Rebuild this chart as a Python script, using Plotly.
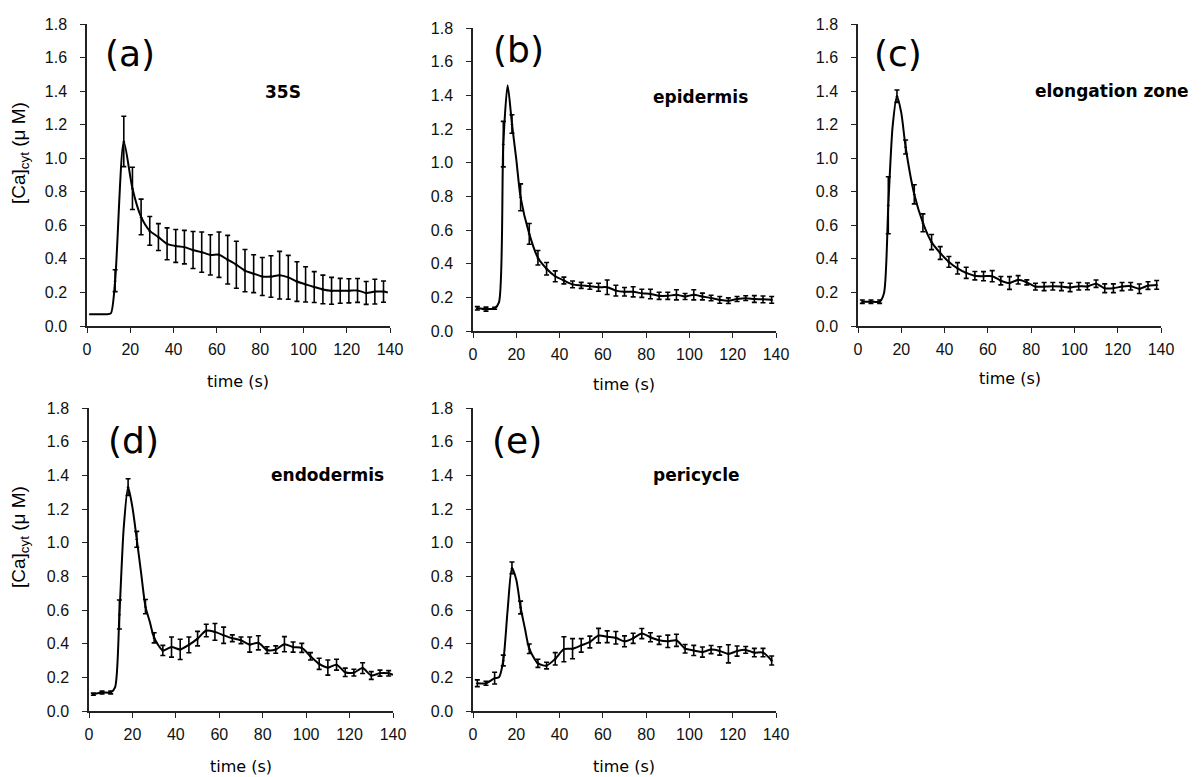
import plotly.graph_objects as go

# the page body adds an 8 px margin, so the figure is drawn 8 px in from the top-left corner
OFF = 8
W, H = 1201 - OFF, 777 - OFF

# ---------------- data (time in s, [Ca]cyt in uM, SE) ----------------
t_a = [1, 5, 9, 11, 13, 17, 21, 25, 29, 33, 37, 41, 45, 49, 53, 57, 61, 65, 69, 73, 77, 81,
       85, 89, 93, 97, 101, 105, 109, 113, 117, 121, 125, 129, 133, 137, 139]
y_a = [0.07, 0.07, 0.07, 0.075, 0.27, 1.10, 0.82, 0.65, 0.567, 0.53, 0.49, 0.477, 0.47, 0.453,
       0.44, 0.424, 0.425, 0.395, 0.365, 0.33, 0.312, 0.295, 0.295, 0.303, 0.29, 0.265, 0.248,
       0.232, 0.218, 0.21, 0.21, 0.21, 0.212, 0.197, 0.205, 0.205, 0.20]
e_a = [None, None, None, None, 0.065, 0.15, 0.126, 0.106, 0.086, 0.08, 0.095, 0.098, 0.10, 0.11,
       0.12, 0.12, 0.135, 0.145, 0.14, 0.126, 0.113, 0.113, 0.124, 0.142, 0.131, 0.118, 0.105,
       0.092, 0.085, 0.08, 0.074, 0.072, 0.071, 0.068, 0.074, 0.063, None]

t_b = [2, 6, 10, 12, 14, 16, 18, 20, 22, 26, 30, 34, 38, 42, 46, 50, 54, 58, 62, 66, 70, 74, 78,
       82, 86, 90, 94, 98, 102, 106, 110, 114, 118, 122, 126, 130, 134, 138]
y_b = [0.135, 0.13, 0.135, 0.17, 1.11, 1.46, 1.23, 1.02, 0.794, 0.577, 0.435, 0.37, 0.325, 0.30,
       0.277, 0.271, 0.266, 0.26, 0.26, 0.24, 0.233, 0.233, 0.224, 0.22, 0.209, 0.209, 0.215,
       0.205, 0.215, 0.205, 0.196, 0.185, 0.18, 0.19, 0.195, 0.19, 0.188, 0.185]
e_b = [0.01, 0.012, 0.006, None, 0.135, None, 0.055, None, 0.08, 0.062, 0.043, 0.037, 0.032, 0.02,
       0.02, 0.018, 0.018, 0.024, 0.043, 0.032, 0.025, 0.03, 0.024, 0.028, 0.021, 0.021, 0.03,
       0.018, 0.03, 0.02, 0.016, 0.02, 0.017, 0.015, 0.014, 0.02, 0.02, 0.02]

t_c = [2, 6, 10, 12, 14, 16, 18, 20, 22, 26, 30, 34, 38, 42, 46, 50, 54, 58, 62, 66, 70, 74, 78,
       82, 86, 90, 94, 98, 102, 106, 110, 114, 118, 122, 126, 130, 134, 138]
y_c = [0.145, 0.145, 0.145, 0.195, 0.72, 1.19, 1.37, 1.27, 1.067, 0.785, 0.615, 0.50, 0.435,
       0.382, 0.344, 0.317, 0.30, 0.297, 0.297, 0.27, 0.256, 0.275, 0.26, 0.235, 0.235, 0.237,
       0.235, 0.23, 0.237, 0.236, 0.252, 0.225, 0.225, 0.235, 0.237, 0.222, 0.241, 0.245]
e_c = [0.01, 0.01, 0.01, None, 0.17, None, 0.037, None, 0.042, 0.057, 0.053, 0.045, 0.038,
       0.032, 0.034, 0.033, 0.025, 0.027, 0.033, 0.025, 0.038, 0.025, 0.015, 0.02, 0.024, 0.022,
       0.024, 0.025, 0.022, 0.02, 0.022, 0.026, 0.026, 0.024, 0.022, 0.028, 0.023, 0.026]

t_d = [2, 6, 10, 12, 14, 16, 18, 20, 22, 24, 26, 28, 30, 34, 38, 42, 46, 50, 54, 58, 62, 66, 70,
       74, 78, 82, 86, 90, 94, 98, 102, 106, 110, 114, 118, 122, 126, 130, 134, 138, 140]
y_d = [0.10, 0.11, 0.11, 0.14, 0.573, 1.09, 1.33, 1.21, 1.02, 0.82, 0.62, 0.53, 0.435, 0.36,
       0.38, 0.366, 0.393, 0.43, 0.478, 0.47, 0.45, 0.432, 0.42, 0.395, 0.405, 0.362, 0.365,
       0.397, 0.38, 0.375, 0.325, 0.28, 0.258, 0.275, 0.23, 0.228, 0.255, 0.211, 0.225, 0.224, 0.215]
e_d = [0.006, 0.008, 0.008, None, 0.086, None, 0.05, None, 0.047, None, 0.042, None, 0.03, 0.03,
       0.06, 0.06, 0.047, 0.043, 0.037, 0.05, 0.048, 0.02, 0.02, 0.045, 0.042, 0.02, 0.022,
       0.045, 0.03, 0.027, 0.022, 0.033, 0.045, 0.032, 0.025, 0.02, 0.032, 0.023, 0.018, 0.016, None]

t_e = [2, 6, 10, 12, 14, 16, 18, 20, 22, 24, 26, 30, 34, 38, 42, 46, 50, 54, 58, 62, 66, 70, 74,
       78, 82, 86, 90, 94, 98, 102, 106, 110, 114, 118, 122, 126, 130, 134, 138]
y_e = [0.165, 0.165, 0.195, 0.20, 0.30, 0.60, 0.85, 0.78, 0.615, 0.49, 0.37, 0.283, 0.27, 0.31,
       0.367, 0.37, 0.39, 0.41, 0.448, 0.441, 0.435, 0.414, 0.432, 0.46, 0.438, 0.42, 0.414,
       0.42, 0.37, 0.36, 0.35, 0.365, 0.357, 0.34, 0.356, 0.363, 0.347, 0.347, 0.30]
e_e = [0.02, 0.012, 0.035, None, 0.032, None, 0.035, None, 0.038, None, 0.028, 0.024, 0.02,
       0.037, 0.074, 0.06, 0.04, 0.035, 0.043, 0.035, 0.037, 0.032, 0.03, 0.03, 0.027, 0.024,
       0.037, 0.036, 0.025, 0.03, 0.03, 0.024, 0.025, 0.054, 0.03, 0.02, 0.025, 0.025, 0.027]

panel_letters = ["(a)", "(b)", "(c)", "(d)", "(e)"]
panel_names = ["35S", "epidermis", "elongation zone", "endodermis", "pericycle"]
x_ticks = [0, 20, 40, 60, 80, 100, 120, 140]
y_ticks = [0.0, 0.2, 0.4, 0.6, 0.8, 1.0, 1.2, 1.4, 1.6, 1.8]

series = [(t_a, y_a, e_a), (t_b, y_b, e_b), (t_c, y_c, e_c), (t_d, y_d, e_d), (t_e, y_e, e_e)]

# ---------------- layout geometry (screen pixels of the 1201x777 page) ----------------
boxes = [(87, 390, 24, 326), (473, 776, 28, 331), (858, 1161, 24, 326),
         (89, 393, 408, 711), (473, 776, 408, 711)]
letter_pos = [(130, 54), (518, 50), (898, 53), (133, 440), (517, 440)]
name_pos = [(283, 92), (700, 97), (1112, 91), (327, 475), (696, 475)]
xtitle_pos = [(238, 382), (624, 384), (1010, 378), (241, 766), (624, 766)]
ytitle_pos = [(20, 153), (20, 537)]

fx = lambda px: (px - OFF) / W
fy = lambda py: 1 - (py - OFF) / H

fig = go.Figure()
layout = dict(template="none", width=W, height=H, margin=dict(l=0, r=0, t=0, b=0, autoexpand=False),
              paper_bgcolor="white", plot_bgcolor="white", showlegend=False)
annotations = []

for i, ((t, y, e), (l, r, tp, bt)) in enumerate(zip(series, boxes)):
    n = "" if i == 0 else str(i + 1)
    xa, ya = "x" + n, "y" + n
    fig.add_trace(go.Scatter(x=t, y=y, mode="lines", xaxis=xa, yaxis=ya,
                             line=dict(color="black", width=2, shape="spline", smoothing=0.7),
                             hoverinfo="skip"))
    te = [tt for tt, ee in zip(t, e) if ee is not None]
    yv = [yy for yy, ee in zip(y, e) if ee is not None]
    ev = [ee for ee in e if ee is not None]
    fig.add_trace(go.Scatter(x=te, y=yv, mode="markers", xaxis=xa, yaxis=ya,
                             marker=dict(color="black", size=3, symbol="triangle-up"),
                             error_y=dict(type="data", array=ev, visible=True, color="black",
                                          thickness=1.6, width=2.5)))
    axstyle = dict(showgrid=False, zeroline=False, showline=True, linecolor="#222", linewidth=1.5,
                   ticks="outside", ticklen=5, tickwidth=1.3, tickcolor="#222", automargin=False,
                   tickfont=dict(family="Liberation Sans, Arial", size=16, color="#111"))
    layout["xaxis" + n] = dict(axstyle, domain=[fx(l), fx(r)], range=[0, 140], tickvals=x_ticks,
                               anchor=ya, ticklabelstandoff=3)
    layout["yaxis" + n] = dict(axstyle, domain=[fy(bt), fy(tp)], range=[0, 1.8], tickvals=y_ticks,
                               tickformat=".1f", anchor=xa, ticklabelstandoff=10)
    lx, ly = letter_pos[i]
    annotations.append(dict(text=panel_letters[i], x=fx(lx), y=fy(ly), xref="paper", yref="paper",
                            showarrow=False, xanchor="center", yanchor="middle",
                            font=dict(family="DejaVu Sans", size=36, color="black")))
    nx, ny = name_pos[i]
    annotations.append(dict(text="<b>" + panel_names[i] + "</b>", x=fx(nx), y=fy(ny),
                            xref="paper", yref="paper", showarrow=False,
                            xanchor="center", yanchor="middle",
                            font=dict(family="DejaVu Sans", size=17, color="black")))
    tx, ty = xtitle_pos[i]
    annotations.append(dict(text="time (s)", x=fx(tx), y=fy(ty), xref="paper", yref="paper",
                            showarrow=False, xanchor="center", yanchor="middle",
                            font=dict(family="DejaVu Sans", size=16, color="black")))

for (px, py) in ytitle_pos:
    annotations.append(dict(text="[Ca]<sub>cyt</sub> (μ M)", x=fx(px), y=fy(py),
                            xref="paper", yref="paper", showarrow=False, textangle=-90,
                            xanchor="center", yanchor="middle",
                            font=dict(family="Liberation Sans, Arial", size=19, color="black")))

layout["annotations"] = annotations
fig.update_layout(**layout)
fig.write_html("out.html")
